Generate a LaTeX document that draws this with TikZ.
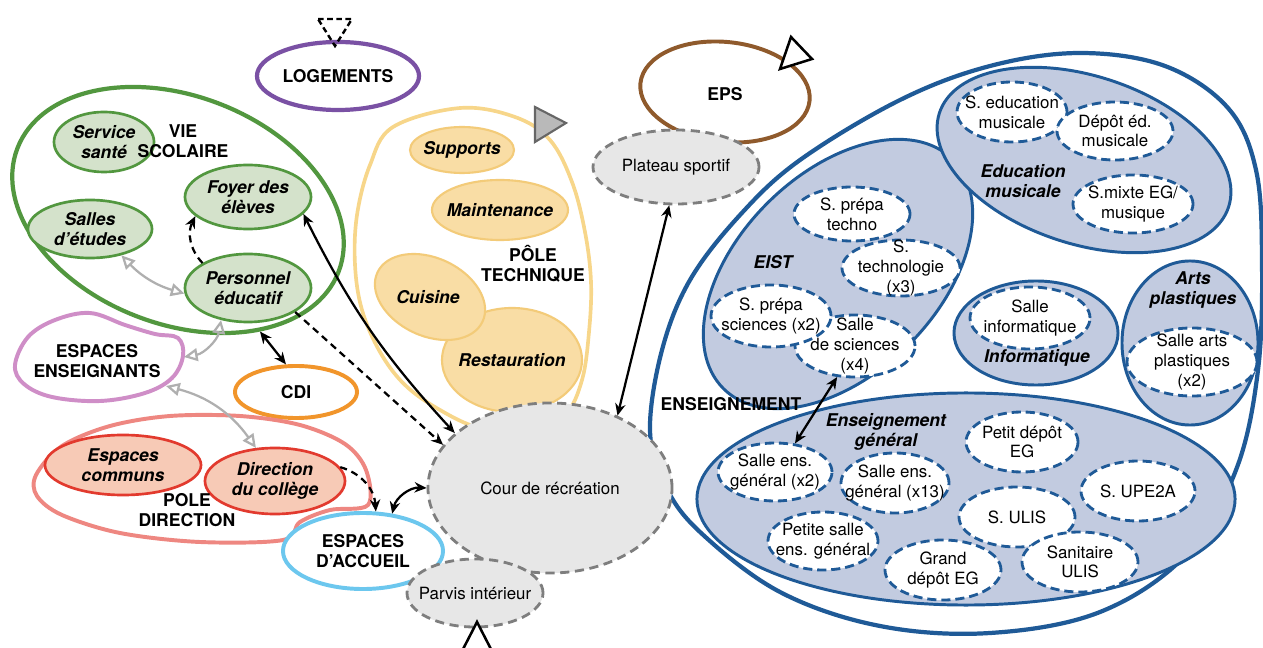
\documentclass[tikz,border=0pt]{standalone}
\usepackage{fontspec}
\setmainfont{TeX Gyre Heros}
\usepackage{xcolor}
\usetikzlibrary{arrows.meta, shapes.geometric}

\definecolor{vsgreen}{HTML}{52973F}
\definecolor{vsfill}{HTML}{D4E2CB}
\definecolor{enspink}{HTML}{CF8EC7}
\definecolor{cdiorange}{HTML}{F1952B}
\definecolor{dirsalmon}{HTML}{EE8781}
\definecolor{dirred}{HTML}{E23A2E}
\definecolor{dirfill}{HTML}{F7CAB6}
\definecolor{accblue}{HTML}{6CC7EE}
\definecolor{logpurple}{HTML}{7A51A4}
\definecolor{epsbrown}{HTML}{8F5A2C}
\definecolor{techyellow}{HTML}{F7D68A}
\definecolor{techedge}{HTML}{F3CB79}
\definecolor{techfill}{HTML}{F9DDA5}
\definecolor{ensblue}{HTML}{1F5A97}
\definecolor{ensfill}{HTML}{C2CBE0}
\definecolor{outline}{HTML}{7E7E7E}
\definecolor{outfill}{HTML}{E7E7E7}
\definecolor{arrowgrey}{HTML}{AFAFAF}

\begin{document}
\begin{tikzpicture}[
  x=0.025cm, y=-0.025cm,
  zone/.style={ellipse, draw, fill=white, line width=2.8pt, inner sep=0pt},
  part/.style={ellipse, draw, line width=1.9pt, inner sep=0pt},
  group/.style={ellipse, draw=ensblue, fill=ensfill, line width=2.1pt, inner sep=0pt},
  room/.style={ellipse, draw=ensblue, fill=white, line width=2pt,
    dash pattern=on 6.5pt off 3.5pt, inner sep=0pt},
  outdoor/.style={ellipse, draw=outline, fill=outfill, line width=2pt,
    dash pattern=on 6.5pt off 4pt, inner sep=0pt},
  zonetag/.style={font=\fontsize{12.5}{14.5}\selectfont\bfseries, align=center, inner sep=0pt},
  parttag/.style={font=\fontsize{12.5}{14.5}\selectfont\bfseries\itshape, align=center, inner sep=0pt},
  roomtag/.style={font=\fontsize{12}{14}\selectfont, align=center, inner sep=0pt},
  arrow/.style={{Stealth[length=3mm,width=2.6mm]}-{Stealth[length=3mm,width=2.6mm]}, line width=1.6pt},
  dasharrow/.style={-{Stealth[length=3mm,width=2.6mm]}, line width=1.6pt, dash pattern=on 5pt off 3.5pt},
  softarrow/.style={{Triangle[open,length=3.4mm,width=3.2mm]}-{Triangle[open,length=3.4mm,width=3.2mm]},
    line width=1.6pt, draw=arrowgrey}
]
\useasboundingbox (0,0) rectangle (1263,648);

% ==================== LEFT ZONES ====================
% Logements
\node[zone, draw=logpurple, line width=3pt, minimum width=4.05cm, minimum height=1.7cm,
  label={[zonetag]center:LOGEMENTS}] (logements) at (338,76) {};

% Vie scolaire
\node[zone, draw=vsgreen, line width=3pt, minimum width=8.6cm, minimum height=5.7cm, rotate=-21] (viesco) at (178,210) {};
\node[part, draw=vsgreen, fill=vsfill, minimum width=2.5cm, minimum height=1.5cm,
  label={[parttag]center:Service\\santé}] (sante) at (104,142) {};
\node[part, draw=vsgreen, fill=vsfill, minimum width=3.15cm, minimum height=1.6cm,
  label={[parttag]center:Foyer des\\élèves}] (foyer) at (248,197) {};
\node[part, draw=vsgreen, fill=vsfill, minimum width=3.1cm, minimum height=1.45cm,
  label={[parttag]center:Salles\\d’études}] (etudes) at (90,229) {};
\node[part, draw=vsgreen, fill=vsfill, minimum width=3.15cm, minimum height=1.7cm,
  label={[parttag]center:Personnel\\éducatif}] (perso) at (248,288) {};
\node[zonetag] (viesco_t) at (183,141) {VIE\\SCOLAIRE};

% Espaces enseignants
\draw[line width=2.8pt, draw=enspink, fill=white] plot[smooth cycle, tension=0.6] coordinates {
  (15,365) (28,337) (55,320) (90,313) (125,325) (155,334) (178,338) (183,356)
  (172,378) (145,393) (100,401) (52,397) (24,384)};
\node[zonetag] (ensgn) at (97,361) {ESPACES\\ENSEIGNANTS};
\coordinate (ensgn_e) at (184,357);
\coordinate (ensgn_se) at (166,386);

% CDI
\node[zone, draw=cdiorange, minimum width=3.05cm, minimum height=1.3cm,
  label={[zonetag]center:CDI}] (cdi) at (296,392) {};

% Pole direction
\draw[line width=2.8pt, draw=dirsalmon, fill=white] plot[smooth cycle, tension=0.55] coordinates {
  (36,475) (62,446) (110,426) (170,416) (240,416) (300,425) (345,444) (366,470)
  (368,505) (330,510) (300,522) (283,540) (200,542) (120,533) (62,515) (37,496)};
\node[part, draw=dirred, fill=dirfill, minimum width=3.9cm, minimum height=1.5cm,
  label={[parttag]center:Espaces\\communs}] (communs) at (123,465) {};
\node[part, draw=dirred, fill=dirfill, minimum width=3.5cm, minimum height=1.65cm,
  label={[parttag]center:Direction\\du collège}] (dirc) at (275,481) {};
\node[zonetag] (poledir) at (187,510) {POLE\\DIRECTION};

% Espaces d'accueil
\node[zone, draw=accblue, minimum width=4cm, minimum height=1.9cm,
  label={[zonetag]center:ESPACES\\D’ACCUEIL}] (accueil) at (363,551) {};

% ==================== POLE TECHNIQUE ====================
\draw[line width=2.6pt, draw=techyellow, fill=white] plot[smooth cycle, tension=0.6] coordinates {
  (393,127) (460,108) (515,117) (550,140) (572,182) (585,232) (591,282) (589,332)
  (582,380) (565,415) (530,432) (480,428) (440,410) (405,385) (380,352) (362,310)
  (355,265) (357,215) (370,165)};
\node[part, draw=techedge, fill=techfill, line width=1.5pt, minimum width=2.6cm, minimum height=1.15cm,
  label={[parttag]center:Supports}] (supports) at (462,150) {};
\node[part, draw=techedge, fill=techfill, line width=1.5pt, minimum width=3.4cm, minimum height=1.5cm,
  label={[parttag]center:Maintenance}] (maint) at (500,210) {};
\node[part, draw=techedge, fill=techfill, line width=1.5pt, minimum width=3.5cm, minimum height=2.6cm,
  label={[parttag]center:Restauration}] (resto) at (512,360) {};
\node[part, draw=techedge, fill=techfill, line width=1.5pt, minimum width=2.9cm, minimum height=1.95cm,
  rotate=-25] (cuisine) at (430,297) {};
\node[parttag] (cuisine_t) at (428,297) {Cuisine};
\node[zonetag] (tech_t) at (533,264) {PÔLE\\TECHNIQUE};

% EPS
\node[zone, draw=epsbrown, minimum width=4.25cm, minimum height=2.5cm, rotate=-6] (eps) at (725,92) {};
\node[zonetag] (eps_t) at (725,94) {EPS};

% ==================== ENSEIGNEMENT ====================
\draw[line width=3pt, draw=ensblue, fill=white] plot[smooth cycle, tension=0.6] coordinates {
  (650,430) (662,350) (690,280) (740,215) (800,160) (900,100) (990,66) (1080,53)
  (1165,66) (1228,108) (1256,170) (1262,260) (1258,370) (1236,470) (1186,555)
  (1100,612) (990,633) (880,626) (780,592) (700,532) (665,485)};

% EIST
\node[group, minimum width=8.1cm, minimum height=5.0cm, rotate=45] (eist) at (838,274) {};
\node[parttag] (eist_t) at (773,262) {EIST};
\node[room, minimum width=2.9cm, minimum height=1.35cm,
  label={[roomtag]center:S. prépa\\techno}] (prepatech) at (852,214) {};
\node[room, minimum width=2.95cm, minimum height=1.4cm,
  label={[roomtag]center:S.\\technologie\\(x3)}] (stechno) at (901,268) {};
\node[room, minimum width=3cm, minimum height=1.55cm,
  label={[roomtag]center:Salle\\de sciences\\(x4)}] (sallesci) at (855,346) {};
\node[room, minimum width=3cm, minimum height=1.55cm,
  label={[roomtag]center:S. prépa\\sciences (x2)}] (prepasci) at (771,316) {};

% Education musicale
\node[group, minimum width=7.6cm, minimum height=4.2cm, rotate=-18] (edmus) at (1084,160) {};
\node[parttag] (edmus_t) at (1023,181) {Education\\musicale};
\node[room, minimum width=2.75cm, minimum height=1.5cm,
  label={[roomtag]center:S. education\\musicale}] (sedmus) at (1012,112) {};
\node[room, minimum width=2.9cm, minimum height=1.45cm,
  label={[roomtag]center:Dépôt éd.\\musicale}] (depotmus) at (1115,131) {};
\node[room, minimum width=3cm, minimum height=1.45cm,
  label={[roomtag]center:S.mixte EG/\\musique}] (smixte) at (1133,204) {};

% Informatique
\node[group, minimum width=4.1cm, minimum height=2.6cm] (info) at (1036,333) {};
\node[room, minimum width=3cm, minimum height=1.55cm,
  label={[roomtag]center:Salle\\informatique}] (sinfo) at (1030,318) {};
\node[parttag] (info_t) at (1037,358) {Informatique};

% Arts plastiques
\node[group, minimum width=3.4cm, minimum height=4.1cm] (arts) at (1190,343) {};
\node[parttag] (arts_t) at (1193,290) {Arts\\plastiques};
\node[room, minimum width=3.25cm, minimum height=1.7cm,
  label={[roomtag]center:Salle arts\\plastiques\\(x2)}] (sarts) at (1192,362) {};

% Enseignement general
\node[group, minimum width=13.45cm, minimum height=5.3cm] (eg) at (966,499) {};
\node[parttag] (eg_t) at (886,432) {Enseignement\\général};
\node[room, minimum width=2.85cm, minimum height=1.45cm,
  label={[roomtag]center:Salle ens.\\général (x2)}] (segx2) at (775,472) {};
\node[room, minimum width=2.7cm, minimum height=1.5cm,
  label={[roomtag]center:Salle ens.\\général (x13)}] (segx13) at (895,483) {};
\node[room, minimum width=2.8cm, minimum height=1.5cm,
  label={[roomtag]center:Petit dépôt\\EG}] (petitdepot) at (1022,442) {};
\node[room, minimum width=2.85cm, minimum height=1.5cm,
  label={[roomtag]center:S. UPE2A}] (upe2a) at (1138,491) {};
\node[room, minimum width=2.9cm, minimum height=1.5cm,
  label={[roomtag]center:S. ULIS}] (ulis) at (1017,517) {};
\node[room, minimum width=2.75cm, minimum height=1.45cm,
  label={[roomtag]center:Petite salle\\ens. général}] (petitesalle) at (823,541) {};
\node[room, minimum width=2.9cm, minimum height=1.5cm,
  label={[roomtag]center:Grand\\dépôt EG}] (granddepot) at (943,570) {};
\node[room, minimum width=2.9cm, minimum height=1.5cm,
  label={[roomtag]center:Sanitaire\\ULIS}] (saniulis) at (1080,562) {};

\node[zonetag] (enseign_t) at (731,404) {ENSEIGNEMENT};

% ==================== OUTDOOR ====================
\node[outdoor, minimum width=4.15cm, minimum height=1.85cm,
  label={[roomtag]center:Plateau sportif}] (plateau) at (676,167) {};
\node[outdoor, minimum width=6.1cm, minimum height=4.25cm,
  label={[roomtag]center:Cour de récréation}] (cour) at (550,488) {};
\node[outdoor, minimum width=3.4cm, minimum height=1.7cm,
  label={[roomtag]center:Parvis intérieur}] (parvis) at (475,593) {};

% entrance marks
\draw[line width=1.7pt, dash pattern=on 4pt off 2.5pt] (318,19) -- (352,19) -- (335,46) -- cycle;
\draw[line width=1.8pt, fill=white] (791,37) -- (812,59) -- (780,69) -- cycle;
\draw[line width=1.5pt, draw=gray!80!black, fill=gray!55] (535,107) -- (566,123) -- (535,142) -- cycle;
\draw[line width=1.8pt, fill=white] (477,622) -- (494,655) -- (460,655) -- cycle;

% ==================== CONNECTIONS ====================
\draw[dasharrow] (perso.north west) to[bend left=35] (foyer.200);
\draw[softarrow] (etudes.-40) to[bend right=15] (perso.185);
\draw[softarrow] (perso.-130) to[bend left=35] (ensgn_e);
\draw[softarrow] (ensgn_se) to[bend left=20] (dirc.120);
\draw[arrow] (viesco.-35) -- (cdi.110);
\draw[dasharrow] (perso.-27) -- (cour.158);
\draw[arrow] (foyer.-17) to[bend right=8] (cour.150);
\draw[dasharrow] (dirc.12) to[bend left=35] (accueil.72);
\draw[arrow] (accueil.52) to[bend left=40] (cour.west);
\draw[arrow] (plateau.-100) -- (cour.47);
\draw[arrow] (sallesci.-120) -- (segx2.55);
\end{tikzpicture}
\end{document}
